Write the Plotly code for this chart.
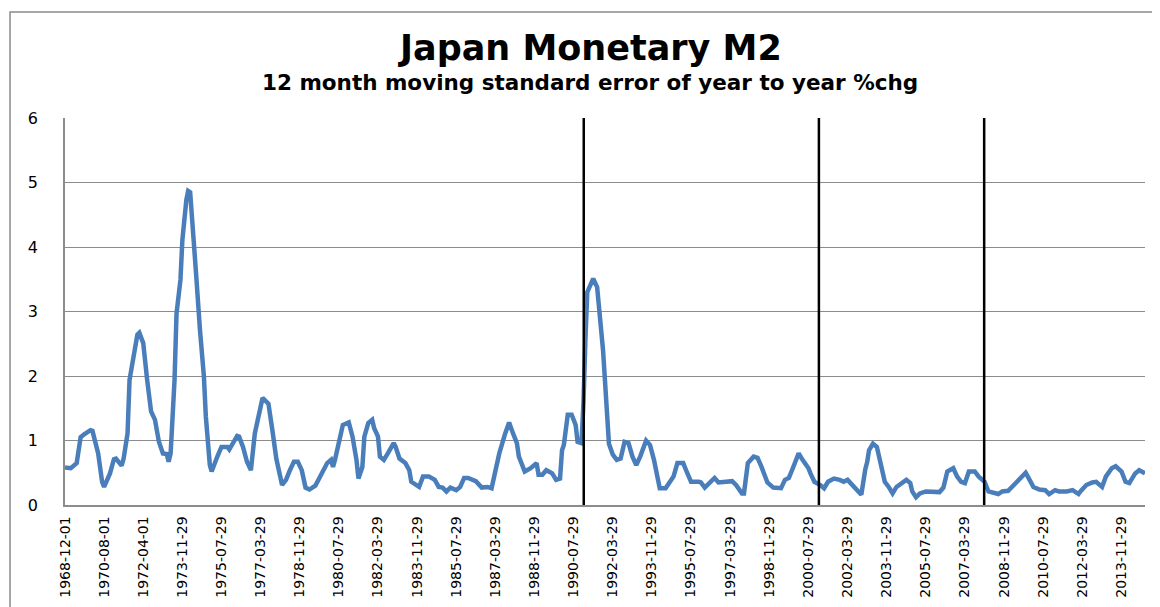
import plotly.graph_objects as go

# ---- data ----
dates = [
    "1968-12", "1969-03", "1969-06", "1969-08", "1969-10", "1970-01", "1970-02", "1970-05", "1970-07", "1970-08",
    "1970-11", "1971-01", "1971-02", "1971-05", "1971-06", "1971-08", "1971-09", "1971-11", "1972-01", "1972-02",
    "1972-04", "1972-06", "1972-08", "1972-10", "1972-12", "1973-02", "1973-04", "1973-05", "1973-06", "1973-08",
    "1973-09", "1973-11", "1973-12", "1974-02", "1974-03", "1974-04", "1974-06", "1974-07", "1974-09", "1974-11",
    "1974-12", "1975-02", "1975-03", "1975-05", "1975-06", "1975-08", "1975-11", "1975-12", "1976-02", "1976-04",
    "1976-05", "1976-07", "1976-09", "1976-11", "1977-01", "1977-03", "1977-05", "1977-06", "1977-08", "1977-10",
    "1977-12", "1978-03", "1978-05", "1978-07", "1978-09", "1978-11", "1979-01", "1979-03", "1979-05", "1979-08",
    "1979-10", "1979-12", "1980-02", "1980-04", "1980-05", "1980-06", "1980-08", "1980-10", "1981-01", "1981-03",
    "1981-05", "1981-06", "1981-08", "1981-09", "1981-11", "1982-01", "1982-02", "1982-04", "1982-05", "1982-07",
    "1982-09", "1982-12", "1983-01", "1983-03", "1983-06", "1983-08", "1983-09", "1984-01", "1984-03", "1984-06",
    "1984-09", "1984-11", "1985-01", "1985-03", "1985-05", "1985-08", "1985-10", "1985-12", "1986-02", "1986-06",
    "1986-09", "1986-12", "1987-02", "1987-04", "1987-06", "1987-09", "1987-11", "1988-01", "1988-03", "1988-04",
    "1988-07", "1988-10", "1989-01", "1989-02", "1989-04", "1989-06", "1989-09", "1989-11", "1990-01", "1990-02",
    "1990-03", "1990-05", "1990-07", "1990-09", "1990-10", "1990-12", "1991-01", "1991-02", "1991-03", "1991-06",
    "1991-08", "1991-11", "1992-01", "1992-02", "1992-04", "1992-06", "1992-08", "1992-10", "1992-12", "1993-02",
    "1993-04", "1993-06", "1993-09", "1993-11", "1994-01", "1994-04", "1994-07", "1994-11", "1995-01", "1995-04",
    "1995-06", "1995-08", "1995-12", "1996-01", "1996-03", "1996-06", "1996-08", "1996-10", "1997-01", "1997-05",
    "1997-07", "1997-10", "1997-11", "1998-01", "1998-04", "1998-06", "1998-08", "1998-11", "1999-02", "1999-06",
    "1999-08", "1999-10", "1999-12", "2000-03", "2000-05", "2000-08", "2000-09", "2000-11", "2001-02", "2001-04",
    "2001-06", "2001-09", "2001-12", "2002-02", "2002-04", "2002-07", "2002-09", "2002-11", "2003-01", "2003-02",
    "2003-03", "2003-05", "2003-07", "2003-09", "2003-11", "2004-01", "2004-03", "2004-05", "2004-08", "2004-10",
    "2004-12", "2005-01", "2005-03", "2005-05", "2005-08", "2005-12", "2006-03", "2006-05", "2006-07", "2006-10",
    "2006-12", "2007-02", "2007-04", "2007-06", "2007-09", "2007-11", "2008-02", "2008-04", "2008-06", "2008-09",
    "2008-11", "2009-02", "2009-05", "2009-07", "2009-10", "2009-11", "2010-01", "2010-03", "2010-06", "2010-09",
    "2010-11", "2011-02", "2011-04", "2011-08", "2011-11", "2012-02", "2012-03", "2012-06", "2012-09", "2012-11",
    "2013-02", "2013-04", "2013-07", "2013-09", "2013-12", "2014-02", "2014-04", "2014-07", "2014-09", "2014-12",
]
std_err = [
    0.58, 0.57, 0.65, 1.05, 1.10, 1.16, 1.15, 0.80, 0.36, 0.28,
    0.49, 0.71, 0.72, 0.61, 0.72, 1.11, 1.94, 2.32, 2.64, 2.67,
    2.51, 1.94, 1.45, 1.32, 0.98, 0.80, 0.79, 0.67, 0.80, 1.94,
    2.97, 3.49, 4.11, 4.73, 4.87, 4.85, 4.11, 3.60, 2.71, 1.99,
    1.37, 0.62, 0.52, 0.70, 0.76, 0.90, 0.90, 0.86, 0.98, 1.07,
    1.06, 0.90, 0.67, 0.54, 1.11, 1.40, 1.66, 1.63, 1.57, 1.16,
    0.72, 0.31, 0.39, 0.54, 0.67, 0.67, 0.54, 0.27, 0.24, 0.30,
    0.42, 0.52, 0.65, 0.70, 0.59, 0.70, 0.98, 1.24, 1.28, 1.06,
    0.70, 0.41, 0.59, 1.06, 1.27, 1.32, 1.19, 1.06, 0.75, 0.70,
    0.80, 0.96, 0.90, 0.72, 0.65, 0.54, 0.36, 0.28, 0.44, 0.44,
    0.39, 0.28, 0.27, 0.21, 0.27, 0.23, 0.28, 0.42, 0.42, 0.37,
    0.27, 0.28, 0.26, 0.57, 0.80, 1.11, 1.28, 1.11, 0.96, 0.75,
    0.52, 0.57, 0.65, 0.47, 0.47, 0.54, 0.49, 0.39, 0.41, 0.85,
    0.93, 1.40, 1.40, 1.24, 0.98, 0.96, 1.60, 2.60, 3.30, 3.51,
    3.38, 2.40, 1.30, 0.95, 0.78, 0.70, 0.72, 0.98, 0.96, 0.75,
    0.62, 0.75, 1.00, 0.93, 0.70, 0.26, 0.26, 0.44, 0.65, 0.65,
    0.50, 0.36, 0.36, 0.35, 0.27, 0.36, 0.42, 0.35, 0.36, 0.37,
    0.31, 0.18, 0.18, 0.65, 0.75, 0.73, 0.59, 0.35, 0.27, 0.26,
    0.39, 0.42, 0.57, 0.80, 0.70, 0.57, 0.49, 0.36, 0.31, 0.26,
    0.36, 0.41, 0.39, 0.36, 0.39, 0.29, 0.23, 0.16, 0.55, 0.67,
    0.85, 0.95, 0.90, 0.65, 0.36, 0.28, 0.18, 0.28, 0.36, 0.39,
    0.34, 0.21, 0.12, 0.18, 0.21, 0.21, 0.20, 0.27, 0.52, 0.57,
    0.44, 0.36, 0.34, 0.52, 0.52, 0.44, 0.36, 0.21, 0.20, 0.17,
    0.21, 0.22, 0.31, 0.38, 0.49, 0.50, 0.39, 0.28, 0.24, 0.23,
    0.17, 0.23, 0.21, 0.21, 0.23, 0.17, 0.21, 0.31, 0.35, 0.36,
    0.28, 0.44, 0.57, 0.60, 0.52, 0.36, 0.34, 0.49, 0.54, 0.49,
]
tick_labels = [
    "1968-12-01", "1970-08-01", "1972-04-01", "1973-11-29", "1975-07-29", "1977-03-29", "1978-11-29",
    "1980-07-29", "1982-03-29", "1983-11-29", "1985-07-29", "1987-03-29", "1988-11-29", "1990-07-29",
    "1992-03-29", "1993-11-29", "1995-07-29", "1997-03-29", "1998-11-29", "2000-07-29", "2002-03-29",
    "2003-11-29", "2005-07-29", "2007-03-29", "2008-11-29", "2010-07-29", "2012-03-29", "2013-11-29",
]
marker_dates = ["1991-01-05", "2001-01-10", "2008-01-25"]
y_ticks = [0, 1, 2, 3, 4, 5, 6]

title_text = "Japan Monetary M2"
subtitle_text = "12 month moving standard error of year to year %chg"

# ---- figure ----
fig = go.Figure()
fig.add_trace(go.Scatter(
    x=[d + "-01" for d in dates], y=std_err, mode="lines",
    line=dict(color="#4A7EBB", width=4.5), showlegend=False, hoverinfo="x+y",
))

for d in marker_dates:
    fig.add_shape(type="line", xref="x", yref="y", x0=d, x1=d, y0=0, y1=6,
                  line=dict(color="black", width=2.5), layer="above")

# outer chart border
fig.add_shape(type="rect", xref="paper", yref="paper",
              x0=-0.0509, x1=1.3, y0=-1.0, y1=1.2739,
              line=dict(color="#8a8a8a", width=1.5), layer="below")

fig.add_annotation(text="<b>" + title_text + "</b>", xref="paper", yref="paper",
                   x=0.486, y=1.181, xanchor="center", yanchor="middle", showarrow=False,
                   font=dict(family="DejaVu Sans", size=35, color="black"))
fig.add_annotation(text="<b>" + subtitle_text + "</b>", xref="paper", yref="paper",
                   x=0.486, y=1.093, xanchor="center", yanchor="middle", showarrow=False,
                   font=dict(family="DejaVu Sans", size=21.5, color="black"))

# page body has an 8px margin, so the figure is sized/placed to compensate
fig.update_layout(
    width=1152, height=599,
    margin=dict(l=57, r=15, t=110, b=102, autoexpand=False),
    paper_bgcolor="white", plot_bgcolor="white",
    font=dict(family="DejaVu Sans", color="black"),
    showlegend=False,
)
fig.update_xaxes(
    type="date", range=["1968-12-01", "2014-12-01"],
    tickmode="array", tickvals=tick_labels, ticktext=tick_labels,
    tickangle=-90, tickfont=dict(family="DejaVu Sans", size=14, color="black"),
    showgrid=False, showline=True, linecolor="#8c8c8c", linewidth=1.5,
    ticks="", ticklabelstandoff=4, zeroline=False, automargin=False,
)
fig.update_yaxes(
    range=[0, 6], tickmode="array", tickvals=y_ticks,
    tickfont=dict(family="DejaVu Sans", size=16, color="black"),
    showgrid=True, gridcolor="#8c8c8c", gridwidth=1,
    showline=True, linecolor="#8c8c8c", linewidth=1.5,
    ticks="", ticklabelstandoff=22, zeroline=False, automargin=False,
)

fig.write_html("out.html")
